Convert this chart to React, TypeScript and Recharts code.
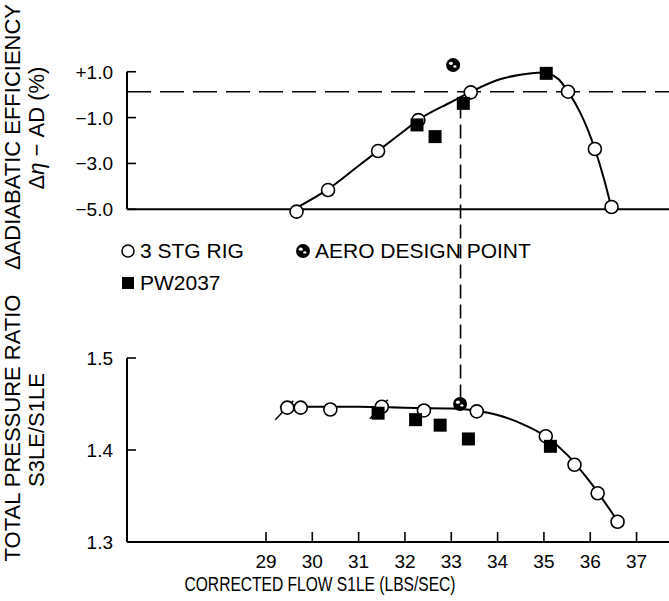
import React from 'react';
import {
  ComposedChart,
  Line,
  Scatter,
  XAxis,
  YAxis,
  ReferenceLine,
  Legend,
} from 'recharts';

// ---- data ----
// efficiency panel
const effRigFlow = [29.66, 30.34, 31.42, 32.29, 33.42, 35.52, 36.1, 36.46];
const effRigValue = [-5.1, -4.16, -2.46, -1.11, 0.1, 0.13, -2.37, -4.9];
const effPwFlow = [32.26, 32.65, 33.26, 35.05];
const effPwValue = [-1.32, -1.83, -0.38, 0.93];
const effDesignFlow = [33.04];
const effDesignValue = [1.29];
const effFitFlow = [29.6, 30.34, 31.0, 31.42, 32.0, 32.29, 33.0, 33.42, 34.05, 34.56, 34.95, 35.3, 35.52, 35.8, 36.1, 36.3, 36.46];
const effFitValue = [-5.0, -4.12, -3.1, -2.45, -1.55, -1.1, -0.32, 0.12, 0.67, 0.89, 0.97, 0.7, 0.13, -0.85, -2.37, -3.7, -4.95];

// pressure ratio panel
const prRigFlow = [29.46, 29.75, 30.39, 31.5, 32.41, 33.55, 35.04, 35.66, 36.16, 36.59];
const prRigValue = [1.446, 1.446, 1.444, 1.447, 1.443, 1.442, 1.415, 1.384, 1.353, 1.322];
const prRigSlashed = [true, false, false, true, false, false, false, false, false, false];
const prPwFlow = [31.42, 32.23, 32.76, 33.37, 35.14];
const prPwValue = [1.44, 1.433, 1.427, 1.412, 1.404];
const prDesignFlow = [33.19];
const prDesignValue = [1.45];
const prFitFlow = [29.3, 30, 31, 32, 33, 33.5, 34, 34.5, 35, 35.5, 36, 36.6];
const prFitValue = [1.447, 1.447, 1.447, 1.446, 1.445, 1.443, 1.438, 1.429, 1.416, 1.395, 1.365, 1.322];

const flowTicks = [29, 30, 31, 32, 33, 34, 35, 36, 37];
const effTicks = [-5, -3, -1, 1];
const prTicks = [1.3, 1.4, 1.5];
const legendNames = ['3 STG RIG', 'AERO DESIGN POINT', 'PW2037'];

const designFlow = 33.2; // vertical dashed guide
const effReference = 0.13; // horizontal dashed guide
const effFloor = -5;

// axis ranges (both panels share one plot rectangle)
const FLOW_DOMAIN: [number, number] = [26, 37.7];
const EFF_DOMAIN: [number, number] = [-19.51, 2.82];
const PR_DOMAIN: [number, number] = [1.3, 1.8565];

const W = 669;
const H = 601;
const FONT = '"Liberation Sans", Arial, sans-serif';

const zip = (xs: number[], ys: number[]) => xs.map((flow, i) => ({ flow, value: ys[i] }));

const effRig = zip(effRigFlow, effRigValue);
const effPw = zip(effPwFlow, effPwValue);
const effDesign = zip(effDesignFlow, effDesignValue);
const effFit = zip(effFitFlow, effFitValue);
const prRig = prRigFlow.map((flow, i) => ({ flow, value: prRigValue[i], slashed: prRigSlashed[i] }));
const prPw = zip(prPwFlow, prPwValue);
const prDesign = zip(prDesignFlow, prDesignValue);
const prFit = zip(prFitFlow, prFitValue);

// same pixel height in both panels -> convert efficiency value to pressure-ratio units
const prFromEff = (e: number) =>
  PR_DOMAIN[0] + ((e - EFF_DOMAIN[0]) / (EFF_DOMAIN[1] - EFF_DOMAIN[0])) * (PR_DOMAIN[1] - PR_DOMAIN[0]);

// ---- markers ----
const OpenCircle = (props: any) => {
  const { cx, cy, payload } = props;
  return (
    <g>
      {payload?.slashed && (
        <line x1={cx - 12} y1={cy + 12} x2={cx + 6} y2={cy - 7} stroke="#000" strokeWidth={1.5} />
      )}
      <circle cx={cx} cy={cy} r={6.5} fill="#fff" stroke="#000" strokeWidth={1.6} />
    </g>
  );
};

const FilledSquare = (props: any) => {
  const { cx, cy } = props;
  return <rect x={cx - 6.5} y={cy - 6.5} width={13} height={13} fill="#000" />;
};

const DesignDot = (props: any) => {
  const { cx, cy } = props;
  return (
    <g>
      <circle cx={cx} cy={cy} r={7} fill="#000" />
      <ellipse cx={cx - 2.2} cy={cy - 1.8} rx={2} ry={1.6} fill="#fff" />
      <ellipse cx={cx + 1.8} cy={cy + 1.4} rx={1.6} ry={1.2} fill="#fff" />
    </g>
  );
};

// ---- ticks drawn inward ----
const makeYTick = (fmt: (v: number) => string) => (props: any) => {
  const { x, y, payload } = props;
  return (
    <g>
      <line x1={x} x2={x + 9} y1={y} y2={y} stroke="#000" strokeWidth={1.6} />
      <text x={x - 14} y={y} dy={7} textAnchor="end" fontSize={19} fontFamily={FONT} fill="#000">
        {fmt(payload.value)}
      </text>
    </g>
  );
};

const effTick = makeYTick((v) => (v > 0 ? `+${v.toFixed(1)}` : `\u2212${Math.abs(v).toFixed(1)}`));
const prTick = makeYTick((v) => v.toFixed(1));

const FlowTick = (props: any) => {
  const { x, y, payload } = props;
  return (
    <g>
      <line x1={x} x2={x} y1={y - 10} y2={y} stroke="#000" strokeWidth={1.6} />
      <text x={x} y={y + 26} textAnchor="middle" fontSize={19} fontFamily={FONT} fill="#000">
        {payload.value}
      </text>
    </g>
  );
};

type TitleLine = { text: React.ReactNode; x: number; y: number };

const VerticalTitle = ({ lines }: { lines: TitleLine[] }) => (
  <g>
    {lines.map((l, i) => (
      <text
        key={i}
        x={l.x}
        y={l.y}
        transform={`rotate(-90 ${l.x} ${l.y})`}
        textAnchor="middle"
        fontSize={22}
        fontFamily={FONT}
        fill="#000"
      >
        {l.text}
      </text>
    ))}
  </g>
);

const LegendBox = () => {
  const item = (name: string, icon: React.ReactNode, left: number, top: number) => (
    <div key={name} style={{ position: 'absolute', left, top, display: 'flex', alignItems: 'center', whiteSpace: 'nowrap' }}>
      <svg width={16} height={18} style={{ marginRight: 4 }}>
        {icon}
      </svg>
      <span style={{ fontFamily: FONT, fontSize: 21, color: '#000' }}>{name}</span>
    </div>
  );
  return (
    <div style={{ position: 'relative', width: 460, height: 60 }}>
      {item(legendNames[0], <circle cx={8} cy={9} r={6} fill="#fff" stroke="#000" strokeWidth={1.5} />, 0, 0)}
      {item(legendNames[1], <DesignDot cx={8} cy={9} />, 175, 0)}
      {item(legendNames[2], <rect x={2} y={3} width={12} height={12} fill="#000" />, 0, 32)}
    </div>
  );
};

export default function App() {
  return (
    <div style={{ position: 'absolute', left: 0, top: 0, width: W, height: H, background: '#fff' }}>
      {/* lower panel: total pressure ratio, carries the flow axis */}
      <div style={{ position: 'absolute', left: 0, top: 0 }}>
        <ComposedChart width={W} height={H} margin={{ top: 30, right: 0, bottom: 0, left: 0 }}>
          <XAxis
            type="number"
            dataKey="flow"
            domain={FLOW_DOMAIN}
            ticks={flowTicks}
            allowDataOverflow
            height={59}
            tickLine={false}
            tickSize={0}
            tickMargin={0}
            tick={<FlowTick />}
            axisLine={{ stroke: '#000', strokeWidth: 2 }}
            label={{
              content: () => (
                <text
                  x={320}
                  y={591}
                  textAnchor="middle"
                  fontSize={21}
                  fontFamily={FONT}
                  fill="#000"
                  textLength={271}
                  lengthAdjust="spacingAndGlyphs"
                >
                  CORRECTED FLOW S1LE (LBS/SEC)
                </text>
              ),
            }}
          />
          <YAxis
            type="number"
            dataKey="value"
            domain={PR_DOMAIN}
            ticks={prTicks}
            allowDataOverflow
            width={127}
            axisLine={false}
            tickLine={false}
            tickSize={0}
            tickMargin={0}
            tick={prTick}
            label={{
              content: () => (
                <VerticalTitle
                  lines={[
                    { text: 'TOTAL PRESSURE RATIO', x: 20, y: 428 },
                    { text: 'S3LE/S1LE', x: 44, y: 430 },
                  ]}
                />
              ),
            }}
          />
          <ReferenceLine
            segment={[{ x: FLOW_DOMAIN[0], y: prTicks[0] }, { x: FLOW_DOMAIN[0], y: prTicks[prTicks.length - 1] }]}
            stroke="#000"
            strokeWidth={2}
          />
          <ReferenceLine
            segment={[{ x: designFlow, y: prDesignValue[0] + 0.006 }, { x: designFlow, y: prFromEff(-0.6) }]}
            stroke="#000"
            strokeWidth={1.6}
            strokeDasharray="14 6"
          />
          <Line
            data={prFit}
            dataKey="value"
            type="monotone"
            stroke="#000"
            strokeWidth={2}
            dot={false}
            isAnimationActive={false}
          />
          <Scatter data={prRig} dataKey="value" shape={OpenCircle} isAnimationActive={false} />
          <Scatter data={prPw} dataKey="value" shape={FilledSquare} isAnimationActive={false} />
          <Scatter data={prDesign} dataKey="value" shape={DesignDot} isAnimationActive={false} />
        </ComposedChart>
      </div>

      {/* upper panel: adiabatic efficiency */}
      <div style={{ position: 'absolute', left: 0, top: 0 }}>
        <ComposedChart width={W} height={H} margin={{ top: 30, right: 0, bottom: 59, left: 0 }}>
          <XAxis type="number" dataKey="flow" domain={FLOW_DOMAIN} allowDataOverflow hide />
          <YAxis
            type="number"
            dataKey="value"
            domain={EFF_DOMAIN}
            ticks={effTicks}
            allowDataOverflow
            width={127}
            axisLine={false}
            tickLine={false}
            tickSize={0}
            tickMargin={0}
            tick={effTick}
            label={{
              content: () => (
                <VerticalTitle
                  lines={[
                    { text: '\u0394ADIABATIC EFFICIENCY', x: 20, y: 137 },
                    {
                      text: (
                        <>
                          {'\u0394'}
                          <tspan fontStyle="italic">{'\u03b7'}</tspan>
                          {' \u2212 AD (%)'}
                        </>
                      ),
                      x: 44,
                      y: 128,
                    },
                  ]}
                />
              ),
            }}
          />
          <Legend
            layout="horizontal"
            verticalAlign="middle"
            align="center"
            wrapperStyle={{ top: 239, left: 120, width: 460 }}
            content={LegendBox}
          />
          <ReferenceLine
            segment={[{ x: FLOW_DOMAIN[0], y: effFloor }, { x: FLOW_DOMAIN[0], y: effTicks[effTicks.length - 1] }]}
            stroke="#000"
            strokeWidth={2}
          />
          <ReferenceLine y={effFloor} stroke="#000" strokeWidth={2} />
          <ReferenceLine y={effReference} stroke="#000" strokeWidth={1.6} strokeDasharray="24 9" />
          <Line
            data={effFit}
            dataKey="value"
            type="monotone"
            stroke="#000"
            strokeWidth={2}
            dot={false}
            isAnimationActive={false}
          />
          <Scatter data={effRig} dataKey="value" shape={OpenCircle} isAnimationActive={false} />
          <Scatter data={effPw} dataKey="value" shape={FilledSquare} isAnimationActive={false} />
          <Scatter data={effDesign} dataKey="value" shape={DesignDot} isAnimationActive={false} />
        </ComposedChart>
      </div>
    </div>
  );
}
